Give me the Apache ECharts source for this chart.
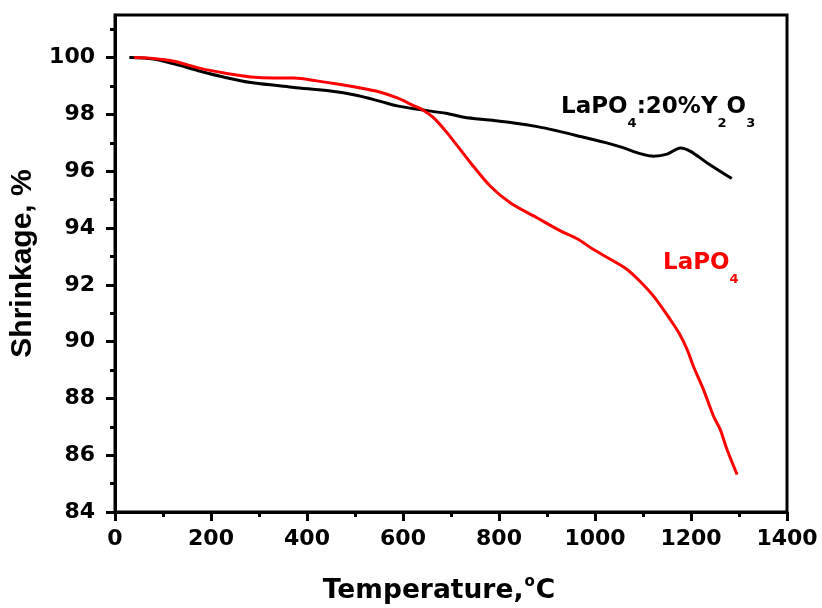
<!DOCTYPE html>
<html>
<head>
<meta charset="utf-8">
<script src="https://cdn.jsdelivr.net/npm/echarts@6/dist/echarts.min.js"></script>
<style>
  html, body { margin: 0; padding: 0; background: #fff; }
  #chart { width: 822px; height: 608px; }
</style>
</head>
<body>
<div id="chart"></div>
<script>
// Temperature (°C) and linear shrinkage (%) for the two compositions
const tempY2O3 = [30, 80, 123, 178, 230, 283, 373, 449, 500, 553, 588, 623, 692, 727, 780, 831, 880, 921, 970, 1030, 1060, 1094, 1122, 1150, 1178, 1199, 1233, 1285];
const shrinkY2O3 = [100, 99.95, 99.78, 99.52, 99.3, 99.12, 98.95, 98.82, 98.68, 98.46, 98.3, 98.2, 98.03, 97.9, 97.8, 97.7, 97.57, 97.42, 97.22, 96.97, 96.82, 96.62, 96.53, 96.6, 96.82, 96.7, 96.3, 95.74];

const tempLaPO4 = [40, 80, 123, 178, 230, 283, 330, 373, 420, 470, 520, 553, 588, 623, 643, 664, 692, 741, 782, 824, 879, 928, 963, 997, 1032, 1067, 1095, 1122, 1157, 1175, 1192, 1205, 1226, 1247, 1261, 1275, 1296];
const shrinkLaPO4 = [100, 99.97, 99.87, 99.62, 99.45, 99.32, 99.28, 99.28, 99.18, 99.05, 98.9, 98.78, 98.58, 98.3, 98.14, 97.88, 97.35, 96.29, 95.47, 94.88, 94.36, 93.9, 93.62, 93.24, 92.9, 92.54, 92.1, 91.6, 90.77, 90.3, 89.72, 89.13, 88.31, 87.37, 86.9, 86.2, 85.32];

// Axis ticks
const yMajorTicks = [84, 86, 88, 90, 92, 94, 96, 98, 100];
const yMinorTicks = [85, 87, 89, 91, 93, 95, 97, 99, 101];

const pairs = (xs, ys) => xs.map((x, i) => [x, ys[i]]);

const FONT = '"DejaVu Sans", sans-serif';

const chart = echarts.init(document.getElementById('chart'), null, { renderer: 'canvas' });

const labelRich = (color) => ({
  n: { fontFamily: FONT, fontWeight: 'bold', fontSize: 23, fill: color, lineHeight: 34, verticalAlign: 'top' },
  s: { fontFamily: FONT, fontWeight: 'bold', fontSize: 13, fill: color, lineHeight: 33, verticalAlign: 'bottom' }
});

const option = {
  backgroundColor: '#fff',
  animation: false,
  grid: {
    left: 115, right: 35, top: 15, bottom: 96,
    outerBoundsMode: 'none',
    containLabel: false,
    show: true, borderColor: '#000', borderWidth: 3, backgroundColor: 'transparent'
  },
  xAxis: {
    type: 'value',
    min: 0, max: 1400, interval: 200,
    name: '{t|Temperature,}{o|o}{t|C}',
    nameLocation: 'middle',
    nameGap: 63,
    nameTextStyle: {
      padding: [0, 24, 0, 0],
      rich: {
        t: { fontFamily: FONT, fontWeight: 'bold', fontSize: 26.5, color: '#000', lineHeight: 30, verticalAlign: 'bottom' },
        o: { fontFamily: FONT, fontWeight: 'bold', fontSize: 15, color: '#000', lineHeight: 16, verticalAlign: 'top', padding: [0, 1, 0, 1] }
      }
    },
    axisLine: { show: true, lineStyle: { color: '#000', width: 3 } },
    axisTick: { show: true, inside: false, length: 9, lineStyle: { color: '#000', width: 3 } },
    minorTick: { show: true, splitNumber: 2, length: 5, lineStyle: { color: '#000', width: 3 } },
    axisLabel: { fontFamily: FONT, fontWeight: 'bold', fontSize: 22, color: '#000', margin: 16, formatter: (v) => String(v) },
    splitLine: { show: false }
  },
  yAxis: [
    {
      type: 'value',
      position: 'left',
      min: 84, max: 101.5, interval: 2,
      name: 'Shrinkage, %',
      nameLocation: 'middle',
      nameGap: 72,
      nameTextStyle: { fontFamily: '"Liberation Sans", Arial, sans-serif', fontWeight: 'bold', fontSize: 30, color: '#000' },
      axisLine: { show: true, lineStyle: { color: '#000', width: 3 } },
      axisTick: { show: true, inside: false, length: 9, customValues: yMajorTicks, lineStyle: { color: '#000', width: 3 } },
      axisLabel: { fontFamily: FONT, fontWeight: 'bold', fontSize: 22, color: '#000', margin: 20, customValues: yMajorTicks, formatter: (v) => String(v) },
      splitLine: { show: false }
    },
    {
      type: 'value',
      position: 'left',
      min: 84, max: 101.5, interval: 2,
      axisLine: { show: false },
      axisTick: { show: true, inside: false, length: 5, customValues: yMinorTicks, lineStyle: { color: '#000', width: 3 } },
      axisLabel: { show: false },
      splitLine: { show: false }
    }
  ],
  series: [
    {
      name: 'LaPO4:20%Y2O3',
      type: 'line',
      yAxisIndex: 0,
      data: pairs(tempY2O3, shrinkY2O3),
      smooth: 0.3,
      showSymbol: false,
      lineStyle: { color: '#000', width: 3 },
      z: 3
    },
    {
      name: 'LaPO4',
      type: 'line',
      yAxisIndex: 0,
      data: pairs(tempLaPO4, shrinkLaPO4),
      smooth: 0.3,
      showSymbol: false,
      lineStyle: { color: '#ff0000', width: 3 },
      z: 4
    }
  ],
  graphic: [
    {
      type: 'text',
      left: 561, top: 96,
      style: { text: '{n|LaPO}{s|4}{n|:20%Y}{s|2}{n|O}{s|3}', rich: labelRich('#000') }
    },
    {
      type: 'text',
      left: 663, top: 252,
      style: { text: '{n|LaPO}{s|4}', rich: labelRich('#ff0000') }
    }
  ]
};

chart.setOption(option);
</script>
</body>
</html>
